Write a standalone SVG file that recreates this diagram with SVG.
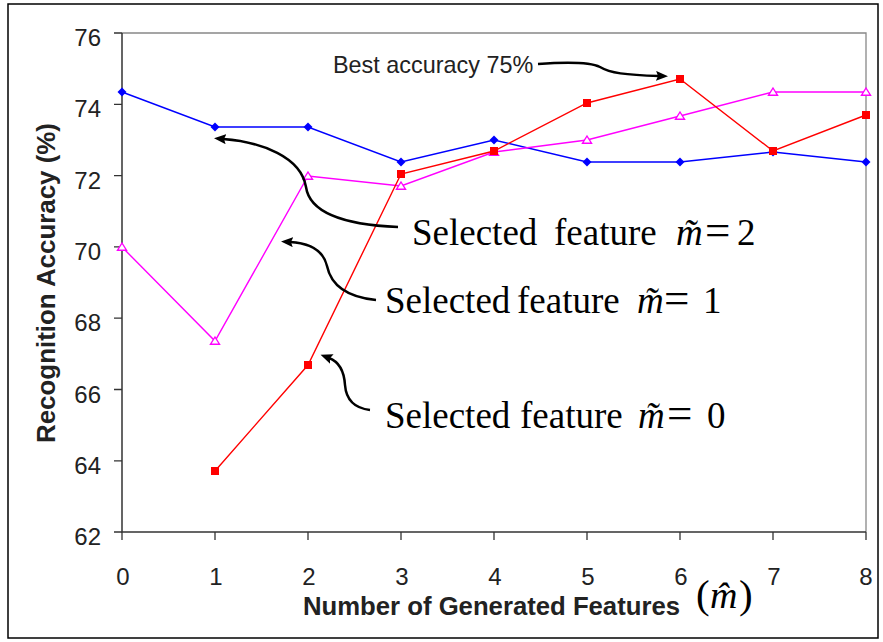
<svg xmlns="http://www.w3.org/2000/svg" width="883" height="642" viewBox="0 0 883 642">
<style>
.tick{font-family:"Liberation Sans",Arial,sans-serif;font-size:24px;fill:#222}
.title{font-family:"Liberation Sans",Arial,sans-serif;font-size:25px;font-weight:bold;fill:#222}
.ann{font-family:"Liberation Serif","Times New Roman",serif;font-size:37px;fill:#000}
.it{font-style:italic}
.eq{font-size:45px}
.blue{fill:none;stroke:#0000FF;stroke-width:1.4}
.red{fill:none;stroke:#FF0000;stroke-width:1.4}
.mag{fill:none;stroke:#FF00FF;stroke-width:1.4}
.arr{fill:none;stroke:#000;stroke-width:2.5;marker-end:url(#ah)}
</style>
<defs>
<marker id="ah" markerUnits="userSpaceOnUse" markerWidth="14" markerHeight="12" refX="3" refY="5" orient="auto">
<path d="M0,0 L12,5 L0,10 L2,5 Z" fill="#000"/>
</marker>
<path id="dia" d="M0,-4.5 L4.5,0 L0,4.5 L-4.5,0 Z" fill="#0000FF"/>
<rect id="sq" x="-4" y="-4" width="8" height="8" fill="#FF0000"/>
<path id="tri" d="M0,-4 L4.5,3.2 L-4.5,3.2 Z" fill="#fff" stroke="#FF00FF" stroke-width="1.4"/>
</defs>
<rect x="0" y="0" width="883" height="642" fill="#fff"/>
<rect x="8" y="4" width="870" height="634" fill="none" stroke="#000" stroke-width="1.5"/>

<g id="axes">
<path d="M122,33 H866 V532" fill="none" stroke="#888" stroke-width="1.3"/>
<path d="M122,33 V532 H866" fill="none" stroke="#333" stroke-width="1.5"/>
<path d="M114,33 H122 M114,104.3 H122 M114,175.6 H122 M114,246.9 H122 M114,318.2 H122 M114,389.5 H122 M114,460.8 H122 M114,532 H122" stroke="#333" stroke-width="1.3"/>
<path d="M122,532 V540 M215,532 V540 M308,532 V540 M401,532 V540 M494,532 V540 M587,532 V540 M680,532 V540 M773,532 V540 M866,532 V540" stroke="#333" stroke-width="1.3"/>
<g class="tick" text-anchor="end">
<text x="101" y="46">76</text>
<text x="101" y="117">74</text>
<text x="101" y="188.5">72</text>
<text x="101" y="260">70</text>
<text x="101" y="331">68</text>
<text x="101" y="402.5">66</text>
<text x="101" y="473.5">64</text>
<text x="101" y="545">62</text>
</g>
<g class="tick" text-anchor="middle">
<text x="123" y="585">0</text>
<text x="216" y="585">1</text>
<text x="309" y="585">2</text>
<text x="402" y="585">3</text>
<text x="495" y="585">4</text>
<text x="588" y="585">5</text>
<text x="681" y="585">6</text>
<text x="774" y="585">7</text>
<text x="866" y="585">8</text>
</g>
<text class="title" x="303" y="615" textLength="377" lengthAdjust="spacingAndGlyphs">Number of Generated Features</text>
<text class="title" transform="translate(55,283) rotate(-90)" text-anchor="middle" textLength="320" lengthAdjust="spacingAndGlyphs">Recognition Accuracy (%)</text>
<text class="ann" y="608" font-size="41" style="font-size:41px"><tspan x="696">(</tspan><tspan x="710" class="it" style="font-size:38px">m̂</tspan><tspan x="739">)</tspan></text>
</g>

<g id="series-m2">
<polyline class="blue" points="122,92 215,127 308,127 401,162 494,140 587,162 680,162 773,152 866,162"/>
<use href="#dia" x="122" y="92"/><use href="#dia" x="215" y="127"/><use href="#dia" x="308" y="127"/><use href="#dia" x="401" y="162"/><use href="#dia" x="494" y="140"/><use href="#dia" x="587" y="162"/><use href="#dia" x="680" y="162"/><use href="#dia" x="773" y="152"/><use href="#dia" x="866" y="162"/>
</g>
<g id="series-m1">
<polyline class="mag" points="122,247 215,341 308,176 401,186 494,152 587,140 680,116 773,92 866,92"/>
<use href="#tri" x="122" y="247"/><use href="#tri" x="215" y="341"/><use href="#tri" x="308" y="176"/><use href="#tri" x="401" y="186"/><use href="#tri" x="494" y="152"/><use href="#tri" x="587" y="140"/><use href="#tri" x="680" y="116"/><use href="#tri" x="773" y="92"/><use href="#tri" x="866" y="92"/>
</g>
<g id="series-m0">
<polyline class="red" points="215,471 308,365 401,174 494,151 587,103 680,79 773,151 866,115"/>
<use href="#sq" x="215" y="471"/><use href="#sq" x="308" y="365"/><use href="#sq" x="401" y="174"/><use href="#sq" x="494" y="151"/><use href="#sq" x="587" y="103"/><use href="#sq" x="680" y="79"/><use href="#sq" x="773" y="151"/><use href="#sq" x="866" y="115"/>
</g>

<g id="connectors">
<path class="arr" d="M538,64 C566,62 590,62 600,67 C610,73 625,75 659,76"/>
<path class="arr" d="M398,227 C350,225 310,215 306,187 C301,157 262,142 223,139"/>
<path class="arr" d="M376,300 C346,297 331,285 327,266 C323,249 307,243 290,242"/>
<path class="arr" d="M370,410 C353,408 346,398 345,385 C344,369 337,361 329,358"/>
</g>

<g id="label-best">
<text class="tick" x="333" y="73" style="font-size:23.4px">Best accuracy 75%</text>
</g>
<g id="label-m2">
<text class="ann" y="245"><tspan x="412">Selected</tspan><tspan x="554">feature</tspan><tspan x="676" class="it">m̃</tspan><tspan x="705" class="eq">=</tspan><tspan x="737">2</tspan></text>
</g>
<g id="label-m1">
<text class="ann" y="313"><tspan x="385">Selected</tspan><tspan x="517">feature</tspan><tspan x="637" class="it">m̃</tspan><tspan x="664" class="eq">=</tspan><tspan x="703">1</tspan></text>
</g>
<g id="label-m0">
<text class="ann" y="428"><tspan x="385">Selected</tspan><tspan x="520">feature</tspan><tspan x="638" class="it">m̃</tspan><tspan x="667" class="eq">=</tspan><tspan x="707">0</tspan></text>
</g>
</svg>
